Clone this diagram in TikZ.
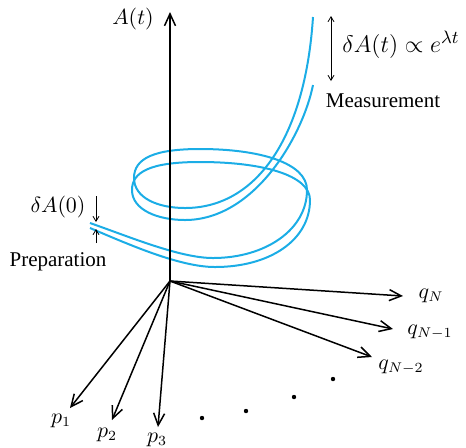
\documentclass[tikz,border=0pt]{standalone}
\usepackage{fontspec}
\setmainfont{Liberation Serif}
\usetikzlibrary{arrows.meta}
\definecolor{traj}{HTML}{1BADE6}
\begin{document}
\begin{tikzpicture}[x=0.5pt,y=-0.5pt,
  axis/.style={line width=0.75pt,-{Straight Barb[length=6pt,width=5.5pt]}},
  orbit/.style={traj,line width=1pt},
  lbl/.style={inner sep=0pt,font=\fontsize{10.5}{12.6}\selectfont},
  smallarrow/.style={line width=0.4pt,-{Straight Barb[length=2.5pt,width=3pt]}},
  dotmark/.style={circle,fill=black,inner sep=0pt,minimum size=2.2pt}]
\useasboundingbox (0,0) rectangle (466,447);
% trajectories
\draw[orbit] (90,223) .. controls (130,237) and (180,258) .. (213,258)
  .. controls (265,258) and (307,230) .. (307,190)
  .. controls (307,163) and (260,149) .. (200,149)
  .. controls (155,149) and (134,158) .. (134,178)
  .. controls (134,198) and (158,208) .. (185,208)
  .. controls (255,208) and (305,140) .. (313,17);
\draw[orbit] (90,228) .. controls (130,245) and (180,267) .. (215,267)
  .. controls (270,267) and (310,240) .. (310,200)
  .. controls (310,175) and (262,162) .. (200,162)
  .. controls (150,162) and (132,172) .. (132,190)
  .. controls (132,210) and (158,220) .. (185,220)
  .. controls (255,220) and (303,135) .. (313,85);
% axes
\coordinate (O) at (170,281);
\coordinate (At) at (170,12);
\coordinate (qN) at (403,296);
\coordinate (qN1) at (393,329);
\coordinate (qN2) at (372,357);
\coordinate (p1) at (70,408);
\coordinate (p2) at (112,420);
\coordinate (p3) at (158,427);
\draw[axis] (O) -- (At);
\draw[axis] (O) -- (qN);
\draw[axis] (O) -- (qN1);
\draw[axis] (O) -- (qN2);
\draw[axis] (O) -- (p1);
\draw[axis] (O) -- (p2);
\draw[axis] (O) -- (p3);
\node[lbl] (lAt) at (133,19) {$A(t)$};
\node[lbl] (lqN) at (431,296) {$q_N$};
\node[lbl] (lqN1) at (430,332) {$q_{N-1}$};
\node[lbl] (lqN2) at (401,367) {$q_{N-2}$};
\node[lbl] (lp1) at (61,421) {$p_1$};
\node[lbl] (lp2) at (107,435) {$p_2$};
\node[lbl] (lp3) at (157,440) {$p_3$};
% dots
\node[dotmark] (d1) at (202,418) {};
\node[dotmark] (d2) at (246,411) {};
\node[dotmark] (d3) at (294,397) {};
\node[dotmark] (d4) at (333,379) {};
% preparation
\coordinate (a0t) at (96,196);
\coordinate (a0tt) at (96,222);
\coordinate (a0b) at (96,243);
\coordinate (a0bb) at (96,229);
\draw[smallarrow] (a0t) -- (a0tt);
\draw[smallarrow] (a0b) -- (a0bb);
\node[lbl] (dA0) at (58,207) {$\delta A(0)$};
\node[lbl] (prep) at (58,262) {Preparation};
% measurement
\coordinate (mt) at (331,16);
\coordinate (mb) at (331,81);
\draw[line width=0.4pt,{Straight Barb[length=2.5pt,width=3pt]}-{Straight Barb[length=2.5pt,width=3pt]}] (mt) -- (mb);
\node[inner sep=0pt,font=\fontsize{13}{15}\selectfont] (dAt) at (401,45) {$\delta A(t)\propto e^{\lambda t}$};
\node[lbl] (meas) at (383,101) {Measurement};
\end{tikzpicture}
\end{document}
